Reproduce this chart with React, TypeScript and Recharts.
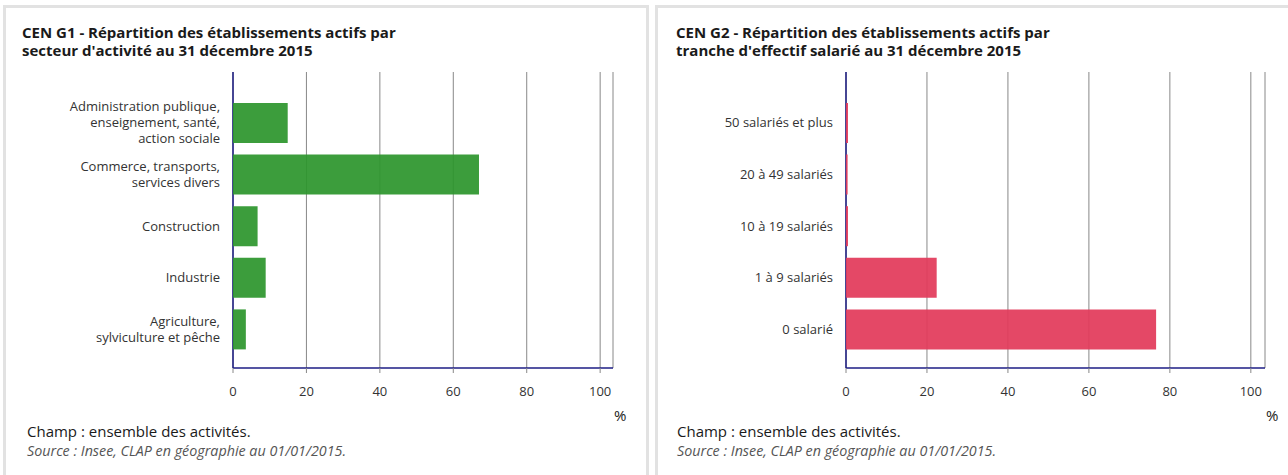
import { Bar, BarChart, CartesianGrid, Label, XAxis, YAxis } from "recharts";

// G1 - établissements actifs par secteur d'activité (%)
const sectorCategories = [
  "Administration publique,\nenseignement, santé,\naction sociale",
  "Commerce, transports,\nservices divers",
  "Construction",
  "Industrie",
  "Agriculture,\nsylviculture et pêche",
];
const sectorShares = [14.9, 67.0, 6.7, 8.9, 3.5];

// G2 - établissements actifs par tranche d'effectif salarié (%)
const sizeCategories = [
  "50 salariés et plus",
  "20 à 49 salariés",
  "10 à 19 salariés",
  "1 à 9 salariés",
  "0 salarié",
];
const sizeShares = [0.5, 0.4, 0.5, 22.4, 76.6];

const xTicks = [0, 20, 40, 60, 80, 100];

const AXIS_COLOR = "#1c1c84";
const GRID_COLOR = "#888888";
const FONT = "'Open Sans', sans-serif";

function MultiLineTick({ x, y, payload }: any) {
  const lines = String(payload.value).split("\n");
  const lh = 16;
  const startY = y - ((lines.length - 1) * lh) / 2;
  return (
    <text x={x} y={startY} textAnchor="end" fill="#333" fontSize={13} fontFamily={FONT}>
      {lines.map((line, i) => (
        <tspan key={i} x={x} y={startY + i * lh} dy="0.35em">
          {line}
        </tspan>
      ))}
    </text>
  );
}

function PercentLabel({ viewBox }: any) {
  if (!viewBox) return null;
  return (
    <text
      x={viewBox.x + viewBox.width + 1}
      y={viewBox.y + 47}
      dominantBaseline="central"
      fontSize={15}
      fill="#222"
      fontFamily={FONT}
    >
      %
    </text>
  );
}

type PanelProps = {
  left: number;
  titleLeft: number;
  footLeft: number;
  title: string[];
  categories: string[];
  values: number[];
  color: string;
  yWidth: number;
  plotWidth: number;
};

function Panel({ left, titleLeft, footLeft, title, categories, values, color, yWidth, plotWidth }: PanelProps) {
  const data = categories.map((name, i) => ({ name, value: values[i] }));
  return (
    <>
      <div
        style={{
          position: "absolute",
          left,
          top: 5,
          width: 646,
          height: 480,
          boxSizing: "border-box",
          border: "3px solid #e2e2e2",
          background: "#fff",
        }}
      />
      <div
        style={{
          position: "absolute",
          left: titleLeft,
          top: 23,
          fontSize: 15,
          lineHeight: "18px",
          fontWeight: 700,
          color: "#1a1a1a",
          whiteSpace: "nowrap",
        }}
      >
        {title.map((t) => (
          <div key={t}>{t}</div>
        ))}
      </div>
      <div style={{ position: "absolute", left, top: 60 }}>
        <BarChart
          width={640}
          height={370}
          data={data}
          layout="vertical"
          margin={{ top: 12, right: 640 - yWidth - plotWidth, left: 0, bottom: 12 }}
        >
          <CartesianGrid horizontal={false} stroke={GRID_COLOR} strokeWidth={1} />
          <XAxis
            type="number"
            domain={[0, 103.5]}
            ticks={xTicks}
            height={50}
            axisLine={{ stroke: AXIS_COLOR, strokeWidth: 1.5 }}
            tickLine={{ stroke: GRID_COLOR }}
            tickSize={5}
            tickMargin={14}
            tick={{ fontSize: 13, fill: "#333", fontFamily: FONT }}
          >
            <Label content={<PercentLabel />} />
          </XAxis>
          <YAxis
            type="category"
            dataKey="name"
            width={yWidth}
            padding={{ top: 25, bottom: 13 }}
            axisLine={{ stroke: AXIS_COLOR, strokeWidth: 1.5 }}
            tickLine={false}
            tickSize={0}
            tickMargin={13}
            interval={0}
            tick={<MultiLineTick />}
          />
          <Bar
            dataKey="value"
            fill={color}
            fillOpacity={0.93}
            barSize={40}
            zIndex={600}
            isAnimationActive={false}
          />
        </BarChart>
      </div>
      <div
        style={{
          position: "absolute",
          left: footLeft,
          top: 423,
          fontSize: 15,
          lineHeight: "17px",
          color: "#1a1a1a",
          whiteSpace: "nowrap",
        }}
      >
        Champ : ensemble des activités.
      </div>
      <div
        style={{
          position: "absolute",
          left: footLeft,
          top: 442,
          fontSize: 14.3,
          lineHeight: "17px",
          fontStyle: "italic",
          color: "#555",
          whiteSpace: "nowrap",
        }}
      >
        Source : Insee, CLAP en géographie au 01/01/2015.
      </div>
    </>
  );
}

export default function App() {
  return (
    <div
      style={{
        position: "absolute",
        left: 0,
        top: 0,
        width: 1288,
        height: 475,
        overflow: "hidden",
        background: "#fff",
        fontFamily: FONT,
      }}
    >
      <Panel
        left={3}
        titleLeft={22}
        footLeft={27}
        title={[
          "CEN G1 - Répartition des établissements actifs par",
          "secteur d'activité au 31 décembre 2015",
        ]}
        categories={sectorCategories}
        values={sectorShares}
        color="#2d962d"
        yWidth={230}
        plotWidth={380}
      />
      <Panel
        left={655}
        titleLeft={676}
        footLeft={677}
        title={[
          "CEN G2 - Répartition des établissements actifs par",
          "tranche d'effectif salarié au 31 décembre 2015",
        ]}
        categories={sizeCategories}
        values={sizeShares}
        color="#e23a5a"
        yWidth={191}
        plotWidth={419}
      />
    </div>
  );
}
